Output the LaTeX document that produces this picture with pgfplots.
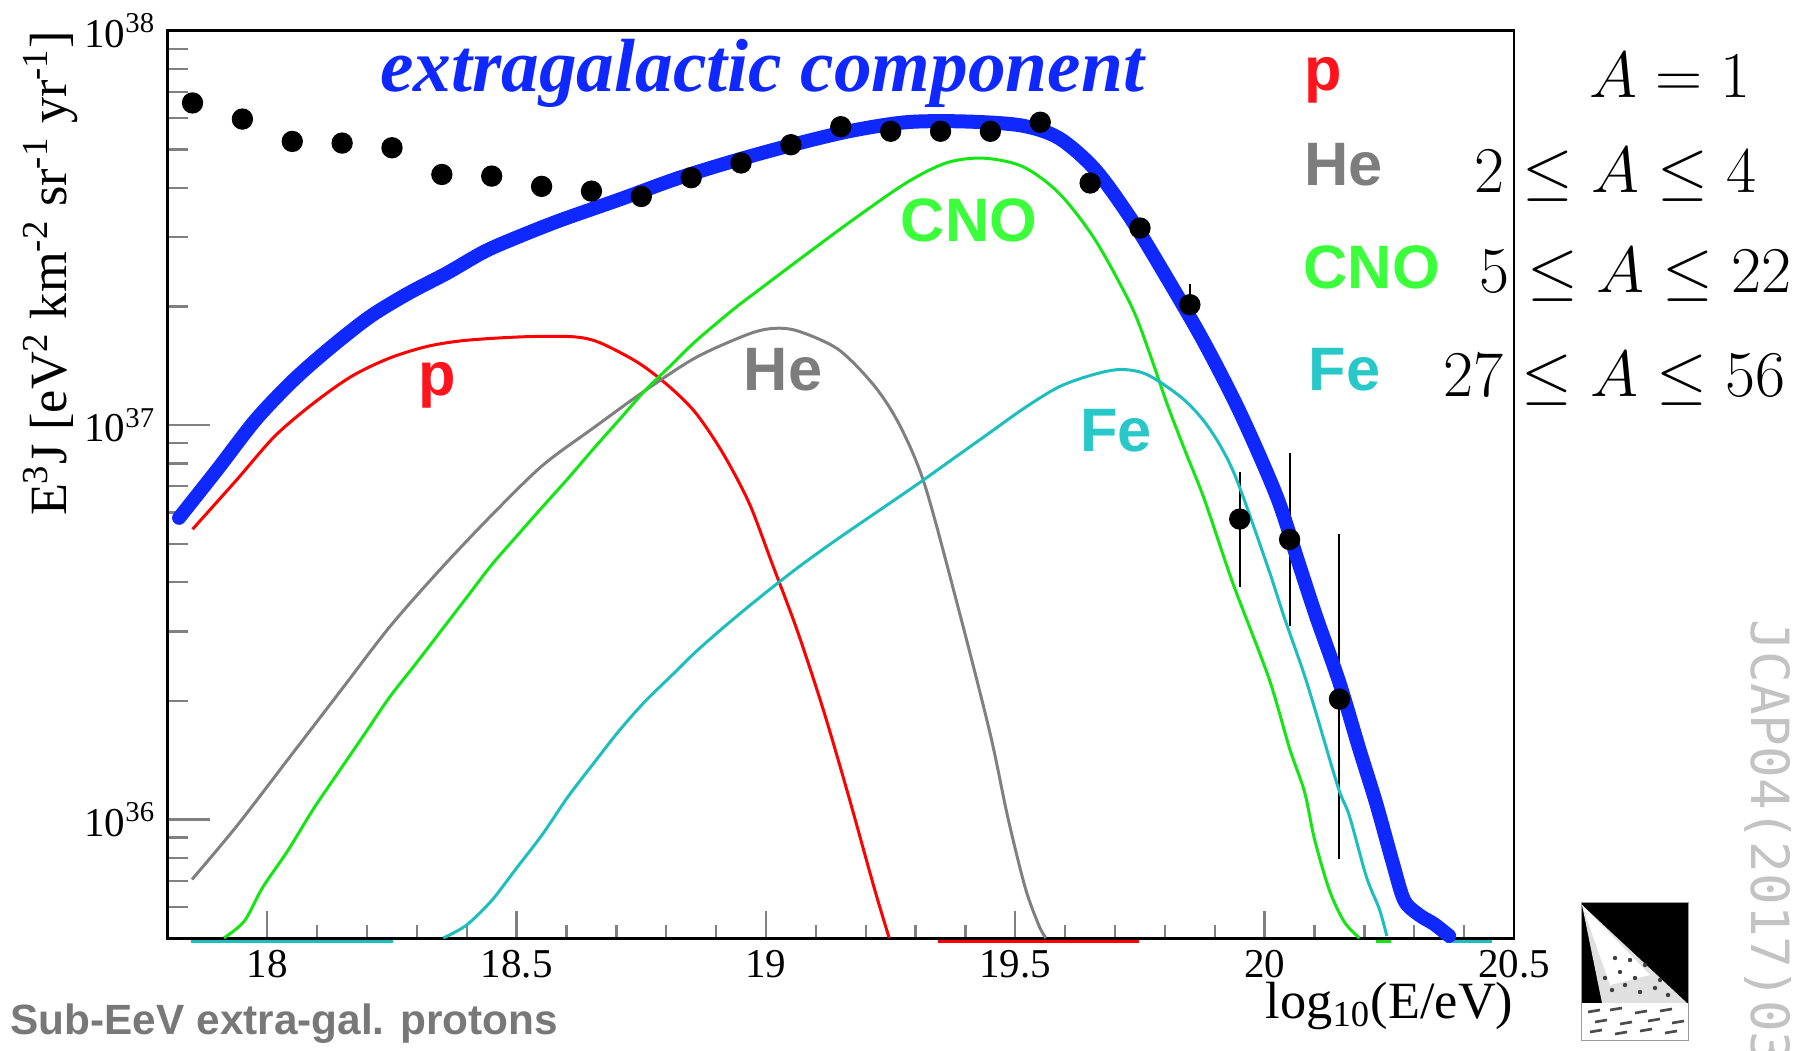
\documentclass[border=0pt]{standalone}
\usepackage{fix-cm}
\usepackage{fontspec}
\setmainfont{Liberation Serif}
\setsansfont{Liberation Sans}
\newfontfamily\jcapfont{DejaVu Sans Mono}
\usepackage{pgfplots}
\pgfplotsset{compat=1.18}
\definecolor{cRed}{RGB}{255,0,0}
\definecolor{cGray}{RGB}{128,128,128}
\definecolor{cGreen}{RGB}{20,230,20}
\definecolor{cCyan}{RGB}{30,190,190}
\definecolor{cBlue}{RGB}{15,40,255}
\definecolor{tRed}{RGB}{255,20,30}
\definecolor{tGreen}{RGB}{60,255,60}
\definecolor{tCyan}{RGB}{40,200,200}
\definecolor{tGray}{RGB}{125,125,125}
\definecolor{subGray}{RGB}{120,120,120}
\definecolor{jcap}{RGB}{195,195,195}

\begin{document}
\begin{tikzpicture}
\useasboundingbox (0,0) rectangle (543.9pt,315.3pt);
\begin{axis}[
  at={(50.28pt,33.75pt)}, anchor=south west,
  scale only axis, width=403.92pt, height=272.28pt,
  xmin=17.8, xmax=20.5, ymin=5e35, ymax=1e38,
  ymode=log, log basis y=10,
  xtick={18,18.5,19,19.5,20,20.5}, minor x tick num=4,
  xtick pos=lower, ytick pos=left,
  tick align=inside,
  xtick style={line width=0.7pt, /pgfplots/major tick length=8.1pt, /pgfplots/minor tick length=3.9pt},
  ytick style={line width=0.7pt, /pgfplots/major tick length=12.6pt, /pgfplots/minor tick length=6pt},
  axis line style={line width=0.8pt},
  /pgf/number format/assume math mode=true,
  xticklabel style={font=\fontsize{12.3}{14}\selectfont},
  yticklabel style={font=\fontsize{12.3}{14}\selectfont},
  yticklabel={10\textsuperscript{\pgfmathprintnumber[fixed,precision=0]{\tick}}},
  clip=false,
]
% data points
\addplot[only marks, mark=*, mark size=3pt, black,
  error bars/.cd, y dir=both, y explicit, error mark=none,
  error bar style={line width=0.6pt}]
 coordinates {
 (17.85,6.56e37) (17.95,5.97e37) (18.05,5.24e37) (18.15,5.19e37) (18.25,5.05e37)
 (18.35,4.32e37) (18.45,4.28e37) (18.55,4.03e37) (18.65,3.92e37) (18.75,3.80e37)
 (18.85,4.24e37) (18.95,4.62e37) (19.05,5.14e37) (19.15,5.71e37) (19.25,5.56e37)
 (19.35,5.56e37) (19.45,5.56e37) (19.55,5.86e37) (19.65,4.11e37) (19.75,3.16e37)
 (19.85,2.02e37) += (0,2.6e36) -= (0,2.3e36)
 (19.95,5.78e36) += (0,1.81e36) -= (0,1.89e36)
 (20.05,5.13e36) += (0,3.38e36) -= (0,2.04e36)
 (20.15,2.02e36) += (0,3.29e36) -= (0,1.226e36)
 };
% segments along the lower edge
\addplot[cCyan, line width=1pt, yshift=-0.9pt] coordinates {(17.846,5e35) (18.253,5e35)};
\addplot[cRed, line width=1pt, yshift=-0.9pt] coordinates {(19.344,5e35) (19.747,5e35)};
\addplot[cGreen, line width=1pt, yshift=-0.9pt] coordinates {(20.224,5e35) (20.254,5e35)};
\addplot[cCyan, line width=1pt, yshift=-0.9pt] coordinates {(20.363,5e35) (20.455,5e35)};
% p
\addplot[cRed, line width=0.9pt, smooth, tension=0.5] coordinates {
 (17.850,5.445e36) (17.939,7.278e36) (18.015,9.376e36) (18.092,1.135e37) (18.169,1.330e37)
 (18.245,1.479e37) (18.322,1.585e37) (18.399,1.641e37) (18.514,1.675e37) (18.614,1.675e37)
 (18.667,1.618e37) (18.744,1.439e37) (18.805,1.256e37) (18.859,1.074e37) (18.913,8.511e36)
 (18.966,6.353e36) (19.012,4.467e36) (19.063,3.006e36) (19.115,1.897e36) (19.166,1.143e36)
 (19.217,6.71e35) (19.247,5.01e35)};
% He
\addplot[cGray, line width=0.9pt, smooth, tension=0.5] coordinates {
 (17.849,7.05e35) (17.939,9.64e35) (18.041,1.419e36) (18.143,2.089e36) (18.245,3.076e36)
 (18.348,4.325e36) (18.450,5.916e36) (18.552,7.907e36) (18.654,9.84e36) (18.757,1.222e37)
 (18.859,1.483e37) (18.961,1.694e37) (19.012,1.758e37) (19.063,1.734e37) (19.145,1.556e37)
 (19.217,1.259e37) (19.268,1.000e37) (19.319,7.015e36) (19.389,3.311e36)
 (19.450,1.641e36) (19.485,1.012e36) (19.520,6.71e35) (19.547,5.40e35) (19.561,5.01e35)};
% CNO
\addplot[cGreen, line width=0.9pt, smooth, tension=0.5] coordinates {
 (17.913,5.01e35) (17.954,5.53e35) (17.990,6.71e35) (18.041,8.34e35) (18.092,1.062e36)
 (18.143,1.321e36) (18.194,1.641e36) (18.245,2.042e36) (18.297,2.477e36) (18.348,3.006e36)
 (18.399,3.648e36) (18.450,4.426e36) (18.501,5.248e36) (18.552,6.209e36) (18.603,7.328e36)
 (18.654,8.710e36) (18.706,1.033e37) (18.757,1.222e37) (18.808,1.413e37) (18.859,1.633e37)
 (18.936,1.972e37) (18.988,2.213e37) (19.051,2.541e37) (19.166,3.258e37) (19.281,4.111e37)
 (19.362,4.624e37) (19.435,4.753e37) (19.514,4.529e37) (19.587,3.882e37) (19.660,2.951e37)
 (19.733,2.000e37) (19.769,1.524e37) (19.806,1.117e37) (19.842,8.511e36) (19.879,6.486e36)
 (19.936,3.981e36) (20.008,2.291e36) (20.050,1.514e36) (20.080,1.175e36) (20.100,8.913e35)
 (20.130,6.607e35) (20.160,5.495e35) (20.190,5.01e35)};
% Fe
\addplot[cCyan, line width=0.9pt, smooth, tension=0.5] coordinates {
 (18.353,5.01e35) (18.399,5.395e35) (18.450,6.237e35) (18.501,7.568e35) (18.552,9.183e35)
 (18.603,1.143e36) (18.654,1.387e36) (18.706,1.683e36) (18.757,1.991e36) (18.808,2.301e36)
 (18.859,2.661e36) (18.910,3.034e36) (18.961,3.436e36) (19.012,3.873e36) (19.063,4.345e36)
 (19.115,4.853e36) (19.166,5.383e36) (19.240,6.237e36) (19.310,7.178e36) (19.380,8.299e36)
 (19.450,9.594e36) (19.520,1.109e37) (19.589,1.253e37) (19.659,1.346e37) (19.713,1.384e37)
 (19.766,1.340e37) (19.838,1.161e37) (19.890,9.772e36) (19.939,7.534e36) (20.005,4.416e36)
 (20.040,3.236e36) (20.078,2.360e36) (20.105,1.828e36) (20.148,1.199e36) (20.170,1.021e36)
 (20.204,7.161e35) (20.230,5.929e35) (20.245,5.07e35)};
% extragalactic component (total)
\addplot[cBlue, line width=4.2pt, smooth, tension=0.5, line join=round, line cap=round] coordinates {
 (17.823,5.82e36) (17.900,7.727e36) (17.977,1.033e37) (18.054,1.306e37) (18.130,1.585e37)
 (18.207,1.888e37) (18.284,2.163e37) (18.361,2.432e37) (18.437,2.761e37) (18.514,3.041e37)
 (18.591,3.319e37) (18.706,3.733e37) (18.821,4.217e37) (18.936,4.677e37) (19.051,5.129e37)
 (19.166,5.559e37) (19.281,5.861e37) (19.396,5.888e37) (19.511,5.754e37) (19.587,5.346e37)
 (19.660,4.446e37) (19.733,3.319e37) (19.806,2.339e37) (19.879,1.618e37) (19.951,1.074e37)
 (20.024,6.607e36) (20.068,4.477e36) (20.103,3.281e36) (20.150,2.223e36) (20.190,1.507e36)
 (20.224,1.096e36) (20.257,7.762e35) (20.280,6.237e35) (20.310,5.728e35) (20.340,5.433e35)
 (20.370,5.070e35)};
\end{axis}

\begin{scope}[x=0.3pt, y=-0.3pt, shift={(0pt,315.3pt)}]
% axis titles
\node[anchor=base east, rotate=90, inner sep=0pt, font=\fontsize{15.7}{18}\selectfont]
  at (66.7,30) {E\textsuperscript{3}J [eV\textsuperscript{2} km\textsuperscript{-2} sr\textsuperscript{-1} yr\textsuperscript{-1}]};
\node[anchor=base east, inner sep=0pt, font=\fontsize{15.7}{18}\selectfont]
  at (1514,1019) {log\textsubscript{10}(E/eV)};
% in-plot annotations
\node[anchor=base, inner sep=0pt, text=cBlue, font=\fontsize{22.6}{26}\selectfont\bfseries\itshape]
  at (762,92) {extragalactic component};
\node[inner sep=0pt, text=tRed, font=\fontsize{18.4}{21}\selectfont\sffamily\bfseries] at (437,385) {p};
\node[inner sep=0pt, text=tGray, font=\fontsize{18.4}{21}\selectfont\sffamily\bfseries] at (783,370) {He};
\node[inner sep=0pt, text=tGreen, font=\fontsize{18.4}{21}\selectfont\sffamily\bfseries] at (969,220) {CNO};
\node[inner sep=0pt, text=tCyan, font=\fontsize{18.4}{21}\selectfont\sffamily\bfseries] at (1116,431) {Fe};
% right-hand key
\node[anchor=west, inner sep=0pt, text=tRed, font=\fontsize{18.4}{21}\selectfont\sffamily\bfseries] at (1304,80) {p};
\node[anchor=west, inner sep=0pt, text=tGray, font=\fontsize{18.4}{21}\selectfont\sffamily\bfseries] at (1304,165) {He};
\node[anchor=west, inner sep=0pt, text=tGreen, font=\fontsize{18.4}{21}\selectfont\sffamily\bfseries] at (1303,267.5) {CNO};
\node[anchor=west, inner sep=0pt, text=tCyan, font=\fontsize{18.4}{21}\selectfont\sffamily\bfseries] at (1308,369.5) {Fe};
\node[anchor=base west, inner sep=0pt, font=\fontsize{19.6}{23}\selectfont] at (1589,98) {$A=1$};
\node[anchor=base west, inner sep=0pt, font=\fontsize{19.6}{23}\selectfont] at (1474,193) {$2\leq A\leq 4$};
\node[anchor=base west, inner sep=0pt, font=\fontsize{19.6}{23}\selectfont] at (1479,293) {$5\leq A\leq 22$};
\node[anchor=base west, inner sep=0pt, font=\fontsize{19.6}{23}\selectfont] at (1443,397) {$27\leq A\leq 56$};
% footer texts
\node[anchor=base west, inner sep=0pt, text=subGray, font=\fontsize{12.7}{15}\selectfont\sffamily\bfseries]
  at (10,1035) {Sub-EeV extra-gal. protons};
\node[anchor=west, rotate=-90, inner sep=0pt, text=jcap, font=\fontsize{15.8}{18}\selectfont\jcapfont]
  at (1767.5,619) {JCAP04(2017)03};
% logo
\fill[black] (1581,903) rectangle (1688,1003);
\fill[black!12] (1582,905) -- (1688,1004) -- (1602,1003) -- cycle;
\fill[white] (1582,905) -- (1650,975) -- (1610,985) -- cycle;
\foreach \a/\b in {1612/990,1625/985,1640/992,1655/988,1668/995,1620/972,1635/978,1605/978,1645/965,1630/960,1615/958,1660/980}
  \fill[black!75] (\a,\b) circle (2.2);
\fill[white] (1581,1003) rectangle (1688,1041);
\draw[black!40, line width=0.3pt] (1581,903) rectangle (1688,1041);
\foreach \a/\b in {1588/1012,1610/1010,1635/1013,1660/1011,1595/1022,1620/1024,1648/1021,1672/1023,1590/1032,1615/1034,1640/1031,1665/1033}
  \draw[black!70, line width=0.8pt] (\a,\b) -- (\a+12,\b-2);
\end{scope}
\end{tikzpicture}
\end{document}
